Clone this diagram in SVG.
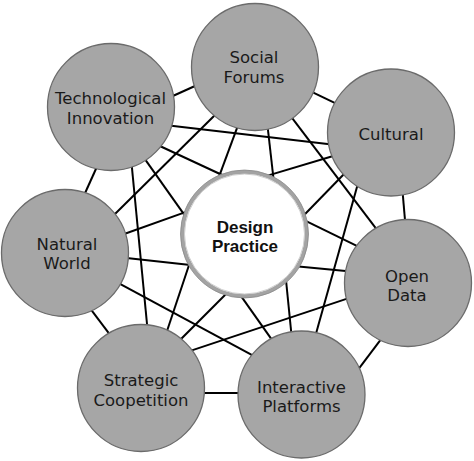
<svg xmlns="http://www.w3.org/2000/svg" width="474" height="461" viewBox="0 0 474 461">
<style>
.c{fill:#a6a6a6;stroke:#6b6b6b;stroke-width:1.3}
.t{font-family:"DejaVu Sans",sans-serif;font-size:16.5px;fill:#1a1a1a;text-anchor:middle}
.ln line{stroke:#000;stroke-width:2}
</style>
<rect width="474" height="461" fill="#fff"/>
<g id="connectors" class="ln">
<line x1="169.5" y1="97.5" x2="200.5" y2="83.5"/>
<line x1="167" y1="125.3" x2="334" y2="144.7"/>
<line x1="156.6" y1="144.5" x2="225.4" y2="176.5"/>
<line x1="143.5" y1="157.1" x2="186.5" y2="217.9"/>
<line x1="131.4" y1="162" x2="147.6" y2="330"/>
<line x1="97.5" y1="165.5" x2="83.5" y2="196.5"/>
<line x1="219.3" y1="110.8" x2="112.7" y2="216.2"/>
<line x1="239.1" y1="122.4" x2="217.9" y2="179.6"/>
<line x1="267.3" y1="124" x2="274.1" y2="184"/>
<line x1="308.6" y1="90.4" x2="340.4" y2="105.6"/>
<line x1="288.4" y1="113.2" x2="378.6" y2="231.8"/>
<line x1="335.7" y1="155.3" x2="263.4" y2="176.9"/>
<line x1="347.2" y1="170.7" x2="300" y2="219.2"/>
<line x1="358.6" y1="181.2" x2="315.4" y2="335.8"/>
<line x1="402.5" y1="191" x2="405.5" y2="226"/>
<line x1="360.4" y1="247.6" x2="299" y2="217.6"/>
<line x1="351" y1="271.4" x2="288" y2="265.4"/>
<line x1="351.7" y1="297.1" x2="187.3" y2="351.9"/>
<line x1="382.6" y1="337.2" x2="356.4" y2="371.8"/>
<line x1="291.6" y1="336" x2="285.5" y2="275"/>
<line x1="273.4" y1="341.9" x2="239.3" y2="293.6"/>
<line x1="257.3" y1="357.8" x2="116.7" y2="282.2"/>
<line x1="200" y1="393" x2="244" y2="393"/>
<line x1="166.1" y1="333.7" x2="191.2" y2="258.5"/>
<line x1="178.8" y1="341.2" x2="229" y2="291"/>
<line x1="88.4" y1="306.2" x2="111.6" y2="336.8"/>
<line x1="121.4" y1="235" x2="192.4" y2="209.6"/>
<line x1="122" y1="257.6" x2="195" y2="265.5"/>
</g>
<g id="social">
<circle class="c" cx="255" cy="67" r="63.5"/>
<text class="t" x="254" y="63">Social</text>
<text class="t" x="254" y="83">Forums</text>
</g>
<g id="technological">
<circle class="c" cx="111" cy="107" r="63.5"/>
<text class="t" x="110.5" y="104">Technological</text>
<text class="t" x="110.5" y="124">Innovation</text>
</g>
<g id="cultural">
<circle class="c" cx="391" cy="132.5" r="63.5"/>
<text class="t" x="391" y="140">Cultural</text>
</g>
<g id="natural">
<circle class="c" cx="65" cy="253" r="63.5"/>
<text class="t" x="67" y="250">Natural</text>
<text class="t" x="67" y="269">World</text>
</g>
<g id="open-data">
<circle class="c" cx="408" cy="283" r="63.5"/>
<text class="t" x="407" y="282">Open</text>
<text class="t" x="407" y="301">Data</text>
</g>
<g id="strategic">
<circle class="c" cx="141" cy="388" r="63.5"/>
<text class="t" x="141" y="386">Strategic</text>
<text class="t" x="141" y="406">Coopetition</text>
</g>
<g id="interactive">
<circle class="c" cx="301.5" cy="394.5" r="63.5"/>
<text class="t" x="301.5" y="392.5">Interactive</text>
<text class="t" x="301.5" y="411.5">Platforms</text>
</g>
<g id="design-practice">
<circle cx="244.5" cy="234" r="62" fill="#fff" stroke="#a3a3a3" stroke-width="4"/>
<circle cx="244.5" cy="234" r="64" fill="none" stroke="#8a8a8a" stroke-width="0.8"/>
<circle cx="244.5" cy="234" r="60" fill="none" stroke="#cfcfcf" stroke-width="1"/>
<text x="245" y="232.5" font-family="Liberation Sans, Arial, sans-serif" font-size="17" font-weight="bold" fill="#111" text-anchor="middle">Design</text>
<text x="245" y="251.5" font-family="Liberation Sans, Arial, sans-serif" font-size="17" font-weight="bold" fill="#111" text-anchor="middle">Practice</text>
</g>
</svg>
